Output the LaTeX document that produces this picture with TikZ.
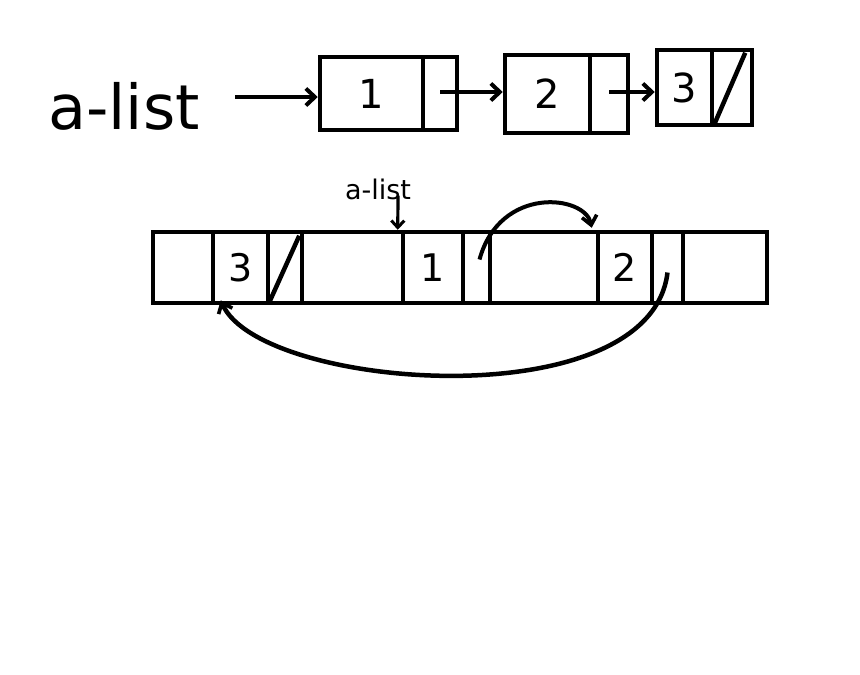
\documentclass[tikz,border=0pt]{standalone}
\usepackage{fontspec}
\setmainfont{DejaVu Sans}
\usetikzlibrary{arrows.meta}
\begin{document}
\begin{tikzpicture}[x=1pt,y=-1pt,
  cell/.style={draw,line width=4.5pt,inner sep=0pt,minimum height=#1,anchor=center},
  cell/.default=73pt,
  lnk/.style={line width=4pt,-{Straight Barb[length=9pt,width=17pt,line width=4pt]}},
  digit/.style={font=\fontsize{40}{42}\selectfont},
  bdigit/.style={font=\fontsize{38}{40}\selectfont}]
\useasboundingbox (0,0) rectangle (860,675);
\fill[white] (0,0) rectangle (860,675);

% ---------- top row ----------
\node[font=\fontsize{62}{64}\selectfont,inner sep=0pt] (alist) at (124,106) {a-list};
\coordinate (t0) at (235,97);

\node[cell=73pt,minimum width=103pt,digit] (d1) at (371.5,93.5) {1};
\node[cell=73pt,minimum width=34pt] (p1) at (440,93.5) {};
\node[cell=78pt,minimum width=85pt,digit] (d2) at (547.5,94) {2};
\node[cell=78pt,minimum width=38pt] (p2) at (609,94) {};
\node[cell=75pt,minimum width=55pt,digit] (d3) at (684.5,87.5) {3};
\node[cell=75pt,minimum width=40pt] (p3) at (732,87.5) {};
\draw[line width=4.5pt] ([xshift=5pt,yshift=4pt]p3.south west) -- ([xshift=-9pt,yshift=-5pt]p3.north east);

\draw[lnk] (t0) -- (d1.west |- t0);
\draw[lnk] (p1.center |- 0,92) -- (d2.west |- 0,92);
\draw[lnk] (p2.center |- 0,92) -- (d3.west |- 0,92);

% ---------- bottom strip ----------
\node[cell=71pt,minimum width=60pt] (c0) at (183,267.5) {};
\node[cell=71pt,minimum width=55pt,bdigit] (c1) at (240.5,267.5) {3};
\node[cell=71pt,minimum width=34pt] (c2) at (285,267.5) {};
\node[cell=71pt,minimum width=101pt] (c3) at (352.5,267.5) {};
\node[cell=71pt,minimum width=60pt,bdigit] (c4) at (433,267.5) {1};
\node[cell=71pt,minimum width=27pt] (c5) at (476.5,267.5) {};
\node[cell=71pt,minimum width=108pt] (c6) at (544,267.5) {};
\node[cell=71pt,minimum width=54pt,bdigit] (c7) at (625,267.5) {2};
\node[cell=71pt,minimum width=31pt] (c8) at (667.5,267.5) {};
\node[cell=71pt,minimum width=84pt] (c9) at (725,267.5) {};
\draw[line width=4.5pt] ([xshift=4pt,yshift=4pt]c2.south west) -- ([xshift=-5pt,yshift=-6pt]c2.north east);

% small label
\node[font=\fontsize{27}{29}\selectfont,inner sep=0pt] (lab) at (378,189) {a-list};
\draw[line width=3.2pt,-{Straight Barb[length=7pt,width=13pt,line width=3pt]}]
  ([xshift=20pt,yshift=4pt]lab.south) -- ([xshift=-3pt]c4.north west);

% arcs
\draw[line width=4pt,-{Straight Barb[length=9pt,width=15pt,line width=3.6pt]}]
  ([xshift=3pt,yshift=8pt]c5.center) .. controls (500,185) and (585,195) .. ([xshift=-4pt,yshift=2pt]c7.north west);
\draw[line width=4.5pt,-{Straight Barb[length=9pt,width=15pt,line width=3.6pt]}]
  ([yshift=-5pt]c8.center) .. controls (650,420) and (260,390) .. ([xshift=10pt,yshift=5pt]c1.south west);
\end{tikzpicture}
\end{document}
